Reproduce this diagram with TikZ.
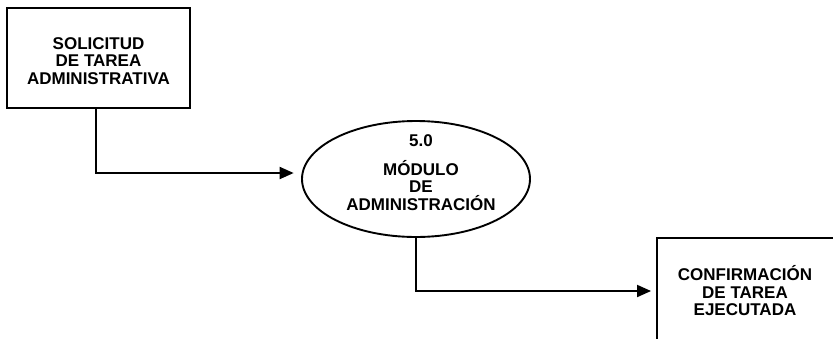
\documentclass[tikz,border=0pt]{standalone}
\usepackage{fontspec}
\setmainfont{Liberation Sans}
\usetikzlibrary{shapes.geometric,arrows.meta}
\begin{document}
\begin{tikzpicture}[x=1pt,y=-1pt,
  every node/.style={font=\fontsize{17}{17.5}\selectfont\bfseries, align=center},
  entbox/.style={draw, line width=1.9pt, inner sep=0pt},
  proc/.style={draw, ellipse, line width=1.9pt, inner sep=0pt},
  flow/.style={line width=1.9pt, -{Triangle[length=14pt,width=12pt]}}]
\useasboundingbox (0,0) rectangle (833,338);
\clip (0,0) rectangle (833,338);
\node[entbox, minimum width=183pt, minimum height=100pt] (sol) at (98.5,58) {};
\node (soltext) at (98.5,61) {SOLICITUD\\DE TAREA\\ADMINISTRATIVA};
\node[proc, minimum width=228pt, minimum height=116pt] (mod) at (416,179) {};
\node (modtext) at (421,172.5) {5.0\\[11pt]MÓDULO\\DE\\ADMINISTRACIÓN};
\node[entbox, minimum width=200pt, minimum height=140pt] (conf) at (757,308) {};
\node (conftext) at (745,291) {CONFIRMACIÓN\\DE TAREA\\EJECUTADA};
\draw[flow, shorten >=8pt] (sol.south -| 96,0) |- (mod.177);
\draw[flow, shorten >=5pt] (mod.south) |- (conftext -| conf.west);
\end{tikzpicture}
\end{document}
